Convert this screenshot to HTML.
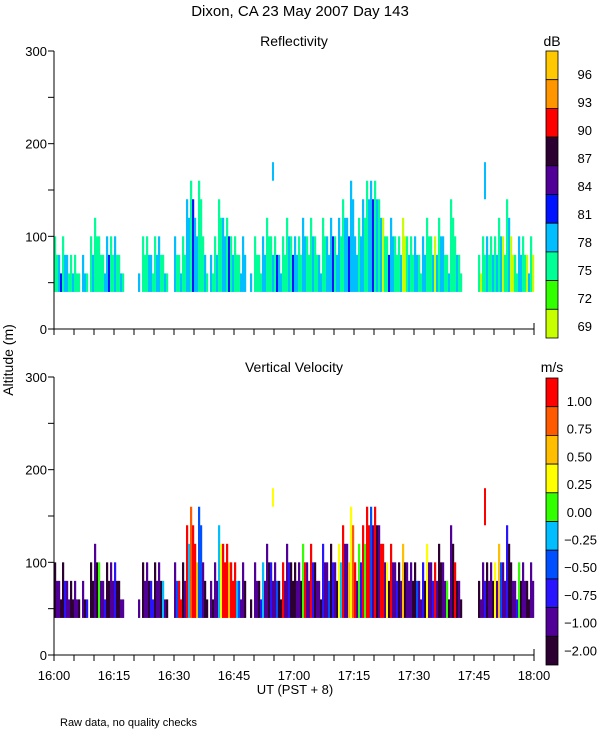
<!DOCTYPE html>
<html><head><meta charset="utf-8"><style>
body{margin:0;background:#fff;}
svg{display:block;font-family:"Liberation Sans",sans-serif;}
</style></head><body>
<svg id="chart" width="600" height="750" viewBox="0 0 600 750" xmlns="http://www.w3.org/2000/svg">
<rect width="600" height="750" fill="#fff"/>
<text x="300" y="16" font-size="15" text-anchor="middle">Dixon, CA 23 May 2007  Day 143</text>
<text x="294" y="46" font-size="14" text-anchor="middle">Reflectivity</text>
<text x="294" y="372" font-size="14" text-anchor="middle">Vertical Velocity</text>
<text transform="translate(13,360) rotate(-90)" font-size="14" text-anchor="middle">Altitude (m)</text>
<text x="295" y="694" font-size="13" text-anchor="middle">UT  (PST + 8)</text>
<text x="60" y="726" font-size="11">Raw data, no quality checks</text>
<text x="552" y="46" font-size="14" text-anchor="middle">dB</text>
<text x="552" y="372" font-size="14" text-anchor="middle">m/s</text>
<g id="marks"></g>
</svg>
<script>
// per-minute data, 16:00 .. 17:59 (top altitude of echo, m; 0 = no data)
const minutes = Array.from({length:120},(_,i)=>i);
const tops = [100,80,100,80,80,80,60,80,60,100, 120,100,80,100,100,100,80,60,0,40,
 0,60,100,100,80,100,100,80,60,0, 100,80,100,140,160,120,160,100,60,80,
 100,140,120,120,100,100,80,100,0,60, 100,80,100,120,100,100,80,100,120,100,
 100,100,120,100,120,100,80,120,100,120, 100,120,140,120,160,100,120,140,160,160,
 160,140,120,100,120,100,100,120,100,100, 100,80,100,120,100,100,120,100,80,140,
 100,80,0,0,0,0,80,100,100,100, 100,120,100,140,100,80,100,100,80,100];
const baseAlt = 40;
const spikeMin = [54.5,107.5];
const spikeLo = [160,140];
const spikeHi = [180,180];
const spikeRefl = ["c","c"];
const spikeVel = ["y","r"];
const reflA = "gcgcgggcgggggcgcgggggcggcgcgggcggcgcgggcggcggggcgcggcgggcgggcgcgggcgccgcgcccgcgcgglgcgglggcgcgglgcggggggglggcggglglgcglgg";
const reflB = "gbcgcggcgcggcbggcgcggggcgcgcccgcgcbcgcggcgcbcgccgcggcgcbcgcbcgcgcgcgcbcgcbcccgcbccgbcgclcgcgcgcccgcgcgcgcglggcccgclgcgclgclcggg";
const velA = "dpdpdpdpvdpgpdpvdpdddpdpvdpcddprdrRrbpdppcrrrrbpddpdcpvpdrpddpgprdpvpdpyrpyrgrrbrpryrpdoppdpvyprdpgprpdddddpdpyopvdpgpdpdpdp";
const velB = "pdvpdpbdpddpvdpdpvpdpdpdvpdpdpbrpcrobdpdpyrorcpdpdpvpdpbdpvdpdrpvpdpbvdcpoRpvgrpdrpdpvpdpdbpdpvpdpddddddpdpvpdpbpdpvdpdpdp";
const reflTicks = ["96","93","90","87","84","81","78","75","72","69"];
const velTicks = ["1.00","0.75","0.50","0.25","0.00","-0.25","-0.50","-0.75","-1.00","-2.00"];
const timeLabels = ["16:00","16:15","16:30","16:45","17:00","17:15","17:30","17:45","18:00"];
const altTicks = [0,100,200,300];

const reflPal = {l:"#c8ff00",g:"#00ff96",c:"#00beff",b:"#0014ff",p:"#500096"};
const velPal = {d:"#2d0032",p:"#500096",v:"#2814ff",b:"#0050ff",c:"#00beff",g:"#32ff00",y:"#ffff00",o:"#ffbe00",R:"#ff5a00",r:"#ff0000"};
const reflBarCols = ["#ffc800","#ff9600","#ff0000","#2d0032","#500096","#0014ff","#00beff","#00ff96","#32ff00","#c8ff00"];
const velBarCols = ["#ff0000","#ff5a00","#ffbe00","#ffff00","#32ff00","#00beff","#0050ff","#2814ff","#500096","#2d0032"];

const NS="http://www.w3.org/2000/svg";
const g=document.getElementById('marks');
function el(t,a,txt){const e=document.createElementNS(NS,t);for(const k in a)e.setAttribute(k,a[k]);if(txt!==undefined)e.textContent=txt;g.appendChild(e);return e;}
const X0=54,X1=534;
const xs=m=>X0+(X1-X0)*m/120;
const panels=[{y0:329,name:'reflectivity',A:reflA,B:reflB,pal:reflPal,sc:spikeRefl,def:'g'},{y0:655,name:'velocity',A:velA,B:velB,pal:velPal,sc:spikeVel,def:'p'}];
panels.forEach(P=>{
  const ys=v=>P.y0-278*v/300;
  const col=ch=>P.pal[ch]||P.pal[P.def];
  minutes.forEach(i=>{
    if(!tops[i])return;
    const x=xs(i),yT=ys(tops[i]),yB=ys(baseAlt);
    let r=el('rect',{x:x,y:yT,width:2.2,height:yB-yT,fill:col(P.A[i])});
    
    
    const t2=Math.max(baseAlt,tops[i]-20);
    r=el('rect',{x:x+2,y:ys(t2),width:2.2,height:yB-ys(t2),fill:col(P.B[i])});
    
    
  });
  spikeMin.forEach((m,k)=>{
    const r=el('rect',{x:xs(m),y:ys(spikeHi[k]),width:2,height:ys(spikeLo[k])-ys(spikeHi[k]),fill:col(P.sc[k])});
    
    
  });
  let a=el('path',{d:`M${X0} ${ys(300)}V${P.y0}H${X1}v-6`,stroke:'#000',fill:'none','stroke-width':1});
  
  
  for(let v=0;v<=300;v+=50){el('line',{x1:X0-6,x2:X0,y1:ys(v),y2:ys(v),stroke:'#000'});}
  altTicks.forEach(v=>{const t=el('text',{x:X0-7,y:ys(v)+5,'font-size':13,'text-anchor':'end'},String(v));
    
    });
  for(let m=0;m<=120;m+=5){el('line',{x1:xs(m),x2:xs(m),y1:P.y0,y2:P.y0+6,stroke:'#000'});}
});
timeLabels.forEach((s,k)=>{const t=el('text',{x:xs(k*15),y:680,'font-size':13,'text-anchor':'middle'},s);
  
  });
function bar(cols,labels,y0,h,ly0,ld,name){
  cols.forEach((c,i)=>{const r=el('rect',{x:546,y:y0+i*h,width:12,height:h,fill:c,stroke:'#000','stroke-width':0.8});
    
    });
  labels.forEach((s,i)=>{const t=el('text',{x:s[0]=='-'?597:592,y:ly0+i*ld+5,'font-size':13,'text-anchor':'end'},s.replace('-','\u2212'));
    
    });
}
bar(reflBarCols,reflTicks,51,28.7,74,28,'reflectivity-colorbar');
bar(velBarCols,velTicks,378,28.7,401,27.7,'velocity-colorbar');
</script>
</body></html>
